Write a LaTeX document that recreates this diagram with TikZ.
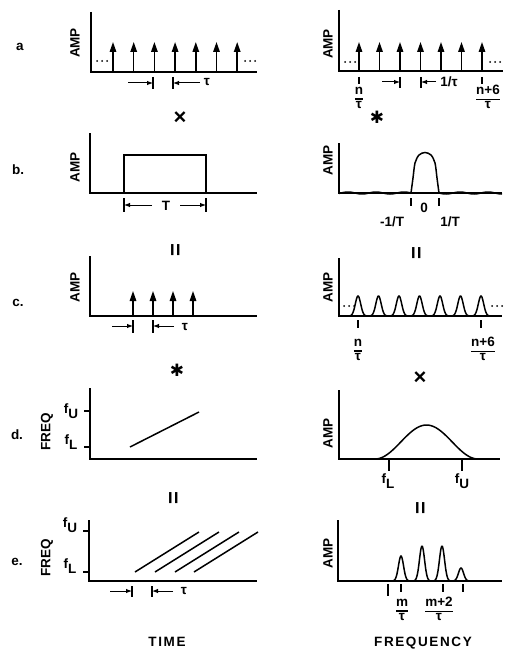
\documentclass[tikz,border=0pt]{standalone}
\usepackage{fontspec}
\setmainfont{Liberation Sans}
\newfontfamily\symfont{DejaVu Sans}
\usetikzlibrary{arrows.meta}
\setlength{\arrayrulewidth}{1.1pt}
\newcommand{\frc}[2]{\renewcommand{\arraystretch}{0.85}\begin{tabular}{@{}c@{}}#1\\\hline #2\end{tabular}}
\newcommand{\fsub}[1]{f\raisebox{-5pt}{#1}}

\begin{document}
\begin{tikzpicture}[
    x=1pt, y=-1pt,
    axis/.style={line width=1.8pt},
    imp/.style={line width=1.5pt, -{Triangle[width=6.5pt,length=10pt]}},
    dim/.style={line width=1pt, -{Latex[length=6pt,width=4.5pt]}},
    bar/.style={line width=1.1pt},
    curve/.style={line width=1.5pt},
    lbl/.style={font=\bfseries\fontsize{13.5}{15}\selectfont, inner sep=1pt},
    vlbl/.style={lbl, rotate=90},
    colname/.style={font=\bfseries\fontsize{13.5}{15}\selectfont\addfontfeatures{LetterSpace=12}},
    op/.style={font=\bfseries\fontsize{22}{22}\selectfont},
    star/.style={font=\symfont\fontsize{17}{17}\selectfont}
  ]
    \useasboundingbox (0,0) rectangle (505,650);

    % a. comb (time)
    \node[lbl] (la) at (20,47) {a};
    \node[vlbl] (ampa1) at (75,43) {AMP};
    \draw[axis] (91,12) -- (91,72) -- (257,72);
    \foreach \i in {0,...,6}
      \draw[imp] ({113+20.7*\i},72) -- ++(0,-30);
    \foreach \x in {97,102,107,245,250,255}
      \fill (\x,61) circle (1pt);
    \draw[bar] (153,77) -- (153,89);
    \draw[bar] (173,77) -- (173,89);
    \draw[dim] (128,83) -- (153,83);
    \draw[dim] (200,83) -- (173,83);
    \node[lbl] (taua) at (207,82) {τ};
    \node[op] (opa1) at (180,118) {×};

    % a. comb (frequency)
    \node[vlbl] (ampa2) at (328,44) {AMP};
    \draw[axis] (339,10) -- (339,71) -- (503,71);
    \foreach \i in {0,...,6}
      \draw[imp] ({359+20.5*\i},71) -- ++(0,-29);
    \foreach \x in {345,350,355,490,495,500}
      \fill (\x,62) circle (1pt);
    \foreach \x in {359,482}
      \draw[bar] (\x,77) -- (\x,84);
    \node[lbl] (na) at (359,99) {\frc{n}{τ}};
    \node[lbl] (n6a) at (488,99) {\frc{n+6}{τ}};
    \draw[bar] (400,77) -- (400,88);
    \draw[bar] (421,77) -- (421,88);
    \draw[dim] (382,82) -- (400,82);
    \draw[dim] (436,82) -- (421,82);
    \node[lbl] (inva) at (449,82) {1/τ};
    \node[star] (opa2) at (377,117) {✱};

    % b. gate (time)
    \node[lbl] (lb) at (18,170) {b.};
    \node[vlbl] (ampb1) at (75,167) {AMP};
    \draw[axis] (90,133) -- (90,193) -- (257,193);
    \draw[curve] (124,193) -- (124,155) -- (206,155) -- (206,193);
    \draw[bar] (124,198) -- (124,212);
    \draw[bar] (206,198) -- (206,212);
    \draw[dim] (152,205) -- (124,205);
    \draw[dim] (180,205) -- (206,205);
    \node[lbl] (tb) at (166,206) {T};
    \node[op, rotate=90] (opb1) at (177,250) {=};

    % b. sinc (frequency)
    \node[vlbl] (ampb2) at (328,160) {AMP};
    \draw[axis] (339,143) -- (339,193) -- (502,193);
    \draw[curve] plot[domain=339:411, samples=80] (\x,{193+1*sin(12.857*(\x-411))});
    \draw[curve] plot[domain=439:502, samples=80] (\x,{193+1*sin(12.857*(\x-439))});
    \draw[curve] plot[smooth] coordinates {(411,193) (413,178) (415,163) (419,155)
      (425,152.5) (431,155) (435,163) (437,178) (439,193)};
    \foreach \x in {411,439}
      \draw[bar] (\x,198) -- (\x,206);
    \node[lbl] (zb) at (424,208) {0};
    \node[lbl] (minvb) at (392,222) {-1/T};
    \node[lbl] (invb) at (450,222) {1/T};
    \node[op, rotate=90] (opb2) at (418,253) {=};

    % c. gated comb (time)
    \node[lbl] (lc) at (18,303) {c.};
    \node[vlbl] (ampc1) at (75,287) {AMP};
    \draw[axis] (90,256) -- (90,316) -- (257,316);
    \foreach \i in {0,...,3}
      \draw[imp] ({133+20*\i},316) -- ++(0,-25);
    \draw[bar] (133,320) -- (133,333);
    \draw[bar] (153,320) -- (153,333);
    \draw[dim] (112,326) -- (133,326);
    \draw[dim] (174,326) -- (153,326);
    \node[lbl] (tauc) at (185,327) {τ};
    \node[star] (opc1) at (177,370) {✱};

    % c. line spectrum (frequency)
    \node[vlbl] (ampc2) at (328,287) {AMP};
    \draw[axis] (339,258) -- (339,316) -- (502,316);
    \foreach \i [evaluate=\i as \c using 358+20.5*\i,
                 evaluate=\i as \lo using 358+20.5*\i-9,
                 evaluate=\i as \hi using 358+20.5*\i+9] in {0,...,6}
      \draw[curve] plot[domain=\lo:\hi, samples=30, smooth]
        (\x,{316-20*exp(-((\x-\c)/3.8)^2)});
    \foreach \x in {344,349,354,492,497,502}
      \fill (\x,306) circle (1pt);
    \foreach \x in {358,481}
      \draw[bar] (\x,320) -- (\x,328);
    \node[lbl] (nc) at (358,351) {\frc{n}{τ}};
    \node[lbl] (n6c) at (483,351) {\frc{n+6}{τ}};
    \node[op] (opc2) at (420,378) {×};

    % d. chirp (time)
    \node[lbl] (ld) at (17,435) {d.};
    \node[vlbl] (freqd) at (47,432) {FREQ};
    \draw[axis] (90,388) -- (90,459) -- (257,459);
    \draw[bar] (84,411) -- (90,411);
    \draw[bar] (84,447) -- (90,447);
    \node[lbl] (fud) at (71,411) {\fsub{U}};
    \node[lbl] (fld) at (71,442) {\fsub{L}};
    \draw[curve] (130,447) -- (199,412);
    \node[op, rotate=90] (opd1) at (175,498) {=};

    % d. band (frequency)
    \node[vlbl] (ampd2) at (328,433) {AMP};
    \draw[axis] (339,390) -- (339,459) -- (500,459);
    \draw[curve] plot[domain=375:478, samples=60, smooth]
      (\x,{459-17*(1-cos(3.495*(\x-375)))});
    \foreach \x in {389,462}
      \draw[bar] (\x,460) -- (\x,471);
    \node[lbl] (fle) at (388,481) {\fsub{L}};
    \node[lbl] (fue) at (462,481) {\fsub{U}};
    \node[op, rotate=90] (opd2) at (422,508) {=};

    % e. chirp train (time)
    \node[lbl] (le) at (17,562) {e.};
    \node[vlbl] (freqe) at (47,558) {FREQ};
    \draw[axis] (89,520) -- (89,581) -- (257,581);
    \draw[bar] (83,531) -- (89,531);
    \draw[bar] (83,572) -- (89,572);
    \node[lbl] (fue1) at (70,525) {\fsub{U}};
    \node[lbl] (fle1) at (70,566) {\fsub{L}};
    \foreach \x in {135,155,175,194}
      \draw[curve] (\x,572) -- ++(64,-40);
    \draw[bar] (132,586) -- (132,597);
    \draw[bar] (152,586) -- (152,597);
    \draw[dim] (110,591) -- (132,591);
    \draw[dim] (173,591) -- (152,591);
    \node[lbl] (taue) at (184,591) {τ};
    \node[colname] (time) at (167,642) {TIME};

    % e. output spectrum (frequency)
    \node[vlbl] (ampe2) at (328,553) {AMP};
    \draw[axis] (338,520) -- (338,581) -- (502,581);
    \foreach \c/\h [evaluate=\c as \lo using \c-9,
                    evaluate=\c as \hi using \c+9] in {401/25, 422/35, 442/35, 461/13}
      \draw[curve] plot[domain=\lo:\hi, samples=30, smooth]
        (\x,{581-\h*exp(-((\x-\c)/3.6)^2)});
    \draw[bar] (388,584) -- (388,596);
    \foreach \x in {401,443,463}
      \draw[bar] (\x,584) -- (\x,592);
    \node[lbl] (me) at (402,611) {\frc{m}{τ}};
    \node[lbl] (m2e) at (439,611) {\frc{m+2}{τ}};
    \node[colname] (freq) at (423,643) {FREQUENCY};
  \end{tikzpicture}
\end{document}
